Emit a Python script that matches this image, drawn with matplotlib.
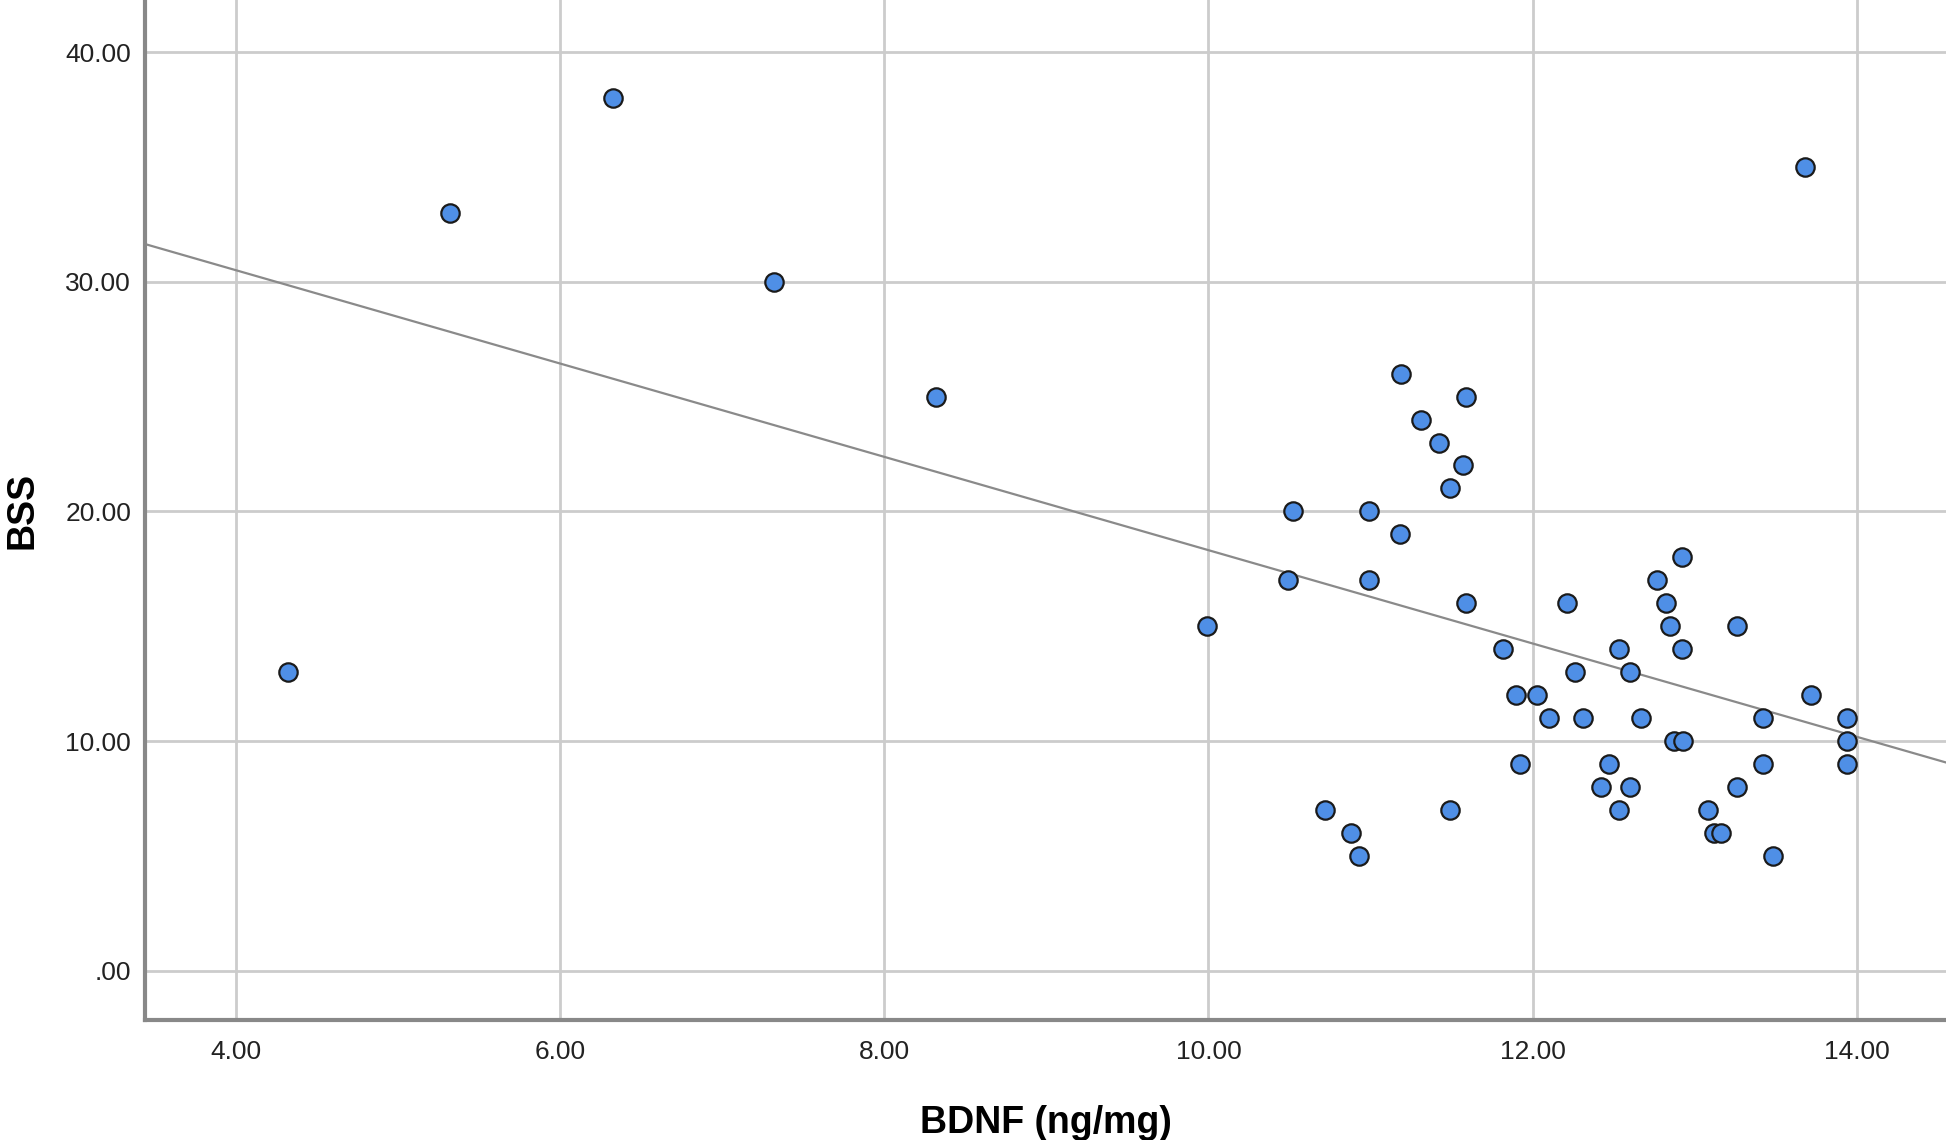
import numpy as np
import matplotlib.pyplot as plt

plt.rcParams['font.family'] = ['Liberation Sans', 'DejaVu Sans']

# BDNF (ng/mg) vs BSS
bdnf = [4.32, 5.32, 6.33, 7.32, 8.32, 9.99, 10.49, 10.52, 10.72, 10.88,
        10.93, 10.99, 10.99, 11.18, 11.19, 11.31, 11.42, 11.49, 11.49, 11.57,
        11.59, 11.59, 11.82, 11.90, 11.92, 12.03, 12.10, 12.21, 12.26, 12.31,
        12.42, 12.47, 12.53, 12.53, 12.60, 12.60, 12.67, 12.77, 12.82, 12.85,
        12.87, 12.92, 12.92, 12.93, 13.08, 13.12, 13.16, 13.26, 13.26, 13.42,
        13.42, 13.48, 13.68, 13.72, 13.94, 13.94, 13.94]
bss = [13, 33, 38, 30, 25, 15, 17, 20, 7, 6,
       5, 20, 17, 19, 26, 24, 23, 21, 7, 22,
       25, 16, 14, 12, 9, 12, 11, 16, 13, 11,
       8, 9, 14, 7, 13, 8, 11, 17, 16, 15,
       10, 14, 18, 10, 7, 6, 6, 15, 8, 11,
       9, 5, 35, 12, 11, 10, 9]

xticks = [4, 6, 8, 10, 12, 14]
yticks = [0, 10, 20, 30, 40]

fig = plt.figure(figsize=(19.46, 11.40), dpi=100)
ax = fig.add_axes([0.0745, 0.105, 0.9255, 0.895])

xlim = (3.44, 14.55)
ylim = (-2.16, 42.27)

# fit line (linear regression)
b, a = np.polyfit(bdnf, bss, 1)
xs = np.array(xlim)
ax.plot(xs, a + b*xs, color='#8a8a8a', lw=1.6, zorder=2)

ax.scatter(bdnf, bss, s=175, facecolor='#4f8fe6', edgecolor='#1a1a1a',
           linewidth=1.6, zorder=3)

ax.set_xlim(xlim)
ax.set_ylim(ylim)
ax.set_xticks(xticks)
ax.set_yticks(yticks)
ax.set_xticklabels(['%.2f' % v for v in xticks])
ax.set_yticklabels(['.00' if v == 0 else '%.2f' % v for v in yticks])
ax.tick_params(length=0, labelsize=19, colors='#222222')
ax.tick_params(axis='y', pad=10)
ax.tick_params(axis='x', pad=14)
ax.grid(True, color='#cccccc', lw=2)
ax.set_axisbelow(True)

for s in ['top', 'right']:
    ax.spines[s].set_visible(False)
for s in ['left', 'bottom']:
    ax.spines[s].set_color('#888888')
    ax.spines[s].set_linewidth(3)

ax.set_xlabel('BDNF (ng/mg)', fontsize=27, fontweight='bold', labelpad=30)
ax.set_ylabel('BSS', fontsize=27, fontweight='bold', labelpad=18)

fig.savefig('out.png', dpi=100)
